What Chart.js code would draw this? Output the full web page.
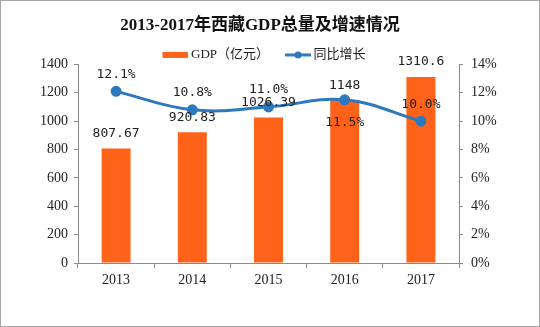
<!DOCTYPE html>
<html>
<head>
<meta charset="utf-8">
<script src="https://cdn.jsdelivr.net/npm/chart.js@4"></script>
<style>
  html, body { margin: 0; padding: 0; background: #fff; }
  #wrap { width: 540px; height: 327px; }
</style>
</head>
<body>
<div id="wrap"><canvas id="gdpChart" width="540" height="327"></canvas></div>
<script>
// data
const years = ['2013', '2014', '2015', '2016', '2017'];
const gdpValues = [807.67, 920.83, 1026.39, 1148, 1310.6];
const gdpLabels = ['807.67', '920.83', '1026.39', '1148', '1310.6'];
const growthValues = [12.1, 10.8, 11.0, 11.5, 10.0];
const growthLabels = ['12.1%', '10.8%', '11.0%', '11.5%', '10.0%'];
const growthLabelSide = ['top', 'top', 'top', 'bottom', 'top'];

const ORANGE = '#FF6319';
const BLUE = '#2E78BE';
const serif = "'Liberation Serif', 'Noto Sans CJK SC', serif";
const mono = "'DejaVu Sans Mono', 'Noto Sans CJK SC', monospace";

// legend swatches (drawn on the right part of the canvas so the text sits close)
function makeSwatch(kind) {
    const c = document.createElement('canvas');
    c.width = 34; c.height = 10;
    const g = c.getContext('2d');
    if (kind === 'bar') {
        g.fillStyle = ORANGE;
        g.fillRect(8, 2, 26, 6);
    } else {
        g.strokeStyle = BLUE;
        g.lineWidth = 3;
        g.beginPath(); g.moveTo(8, 5); g.lineTo(34, 5); g.stroke();
        g.fillStyle = BLUE;
        g.beginPath(); g.arc(21, 5, 3.5, 0, Math.PI * 2); g.fill();
    }
    return c;
}
const barSwatch = makeSwatch('bar');
const lineSwatch = makeSwatch('line');

// legend sits closer to the plot than chart.js leaves by default,
// and title + legend are a little left of centre in the original
const layoutTweaks = {
    id: 'layoutTweaks',
    beforeLayout(chart) {
        const lg = chart.legend;
        if (lg && !lg._trimmed) {
            const fit = lg.fit.bind(lg);
            lg.fit = function () { fit(); this.height -= 5; };
            lg._trimmed = true;
        }
    },
    afterLayout(chart) {
        const t = chart.titleBlock;
        if (t) { t.left -= 10; t.right -= 10; t.top += 1; t.bottom += 1; }
        const lg = chart.legend;
        if (lg) { lg.left -= 8; lg.right -= 8; lg.top += 2; lg.bottom += 2; }
    }
};

const valueLabels = {
    id: 'valueLabels',
    afterDatasetsDraw(chart) {
        const ctx = chart.ctx;
        ctx.save();
        ctx.font = '13px ' + mono;
        ctx.fillStyle = '#222';
        ctx.textAlign = 'center';
        ctx.textBaseline = 'middle';
        chart.getDatasetMeta(0).data.forEach((bar, i) => {
            ctx.fillText(gdpLabels[i], bar.x, bar.y - 15);
        });
        chart.getDatasetMeta(1).data.forEach((pt, i) => {
            const dy = growthLabelSide[i] === 'top' ? -17 : 23;
            ctx.fillText(growthLabels[i], pt.x, pt.y + dy);
        });
        ctx.restore();
    }
};

const frame = {
    id: 'frame',
    afterDraw(chart) {
        const ctx = chart.ctx;
        ctx.save();
        ctx.strokeStyle = '#a6a6a6';
        ctx.lineWidth = 1;
        ctx.strokeRect(0.5, 0.5, chart.width - 1, chart.height - 1);
        ctx.restore();
    }
};

const axisColor = '#8c8c8c';

new Chart(document.getElementById('gdpChart'), {
    type: 'bar',
    data: {
        labels: years,
        datasets: [{
            type: 'bar',
            label: 'GDP（亿元）',
            data: gdpValues,
            backgroundColor: ORANGE,
            yAxisID: 'y',
            barPercentage: 0.38,
            categoryPercentage: 1,
            order: 2
        }, {
            type: 'line',
            label: '同比增长',
            data: growthValues,
            borderColor: BLUE,
            backgroundColor: BLUE,
            borderWidth: 3,
            pointRadius: 4,
            pointHoverRadius: 4,
            tension: 0.4,
            yAxisID: 'y1',
            order: 1
        }]
    },
    options: {
        responsive: false,
        animation: false,
        layout: { padding: 0 },
        plugins: {
            title: {
                display: true,
                text: '2013-2017年西藏GDP总量及增速情况',
                color: '#111',
                font: { family: serif, size: 17, weight: 'bold' },
                padding: { top: 14, bottom: 0 }
            },
            legend: {
                display: true,
                labels: {
                    color: '#222',
                    font: { family: serif, size: 13 },
                    usePointStyle: true,
                    pointStyleWidth: 26,
                    padding: 12,
                    generateLabels() {
                        return [
                            { text: 'GDP（亿元）', pointStyle: barSwatch, fillStyle: ORANGE, strokeStyle: ORANGE, lineWidth: 0, datasetIndex: 0, fontColor: '#222' },
                            { text: '同比增长', pointStyle: lineSwatch, fillStyle: BLUE, strokeStyle: BLUE, lineWidth: 0, datasetIndex: 1, fontColor: '#222' }
                        ];
                    }
                }
            },
            tooltip: { enabled: false }
        },
        scales: {
            x: {
                grid: { drawOnChartArea: false, tickLength: 5, color: axisColor, offset: true },
                border: { color: axisColor },
                ticks: { color: '#222', font: { family: serif, size: 14 }, padding: 4 },
                afterFit(s) { s.height = 64; }
            },
            y: {
                position: 'left',
                min: 0,
                max: 1400,
                ticks: { stepSize: 200, color: '#222', font: { family: serif, size: 14 }, padding: 6,
                    callback: (v) => String(v) },
                grid: { drawOnChartArea: false, tickLength: 4, color: axisColor },
                border: { color: axisColor },
                afterFit(s) { s.width = 78; }
            },
            y1: {
                position: 'right',
                min: 0,
                max: 14,
                ticks: { stepSize: 2, color: '#222', font: { family: serif, size: 14 }, padding: 8,
                    callback: (v) => v + '%' },
                grid: { drawOnChartArea: false, tickLength: 4, color: axisColor },
                border: { color: axisColor },
                afterFit(s) { s.width = 81; }
            }
        }
    },
    plugins: [layoutTweaks, valueLabels, frame]
});
</script>
</body>
</html>
